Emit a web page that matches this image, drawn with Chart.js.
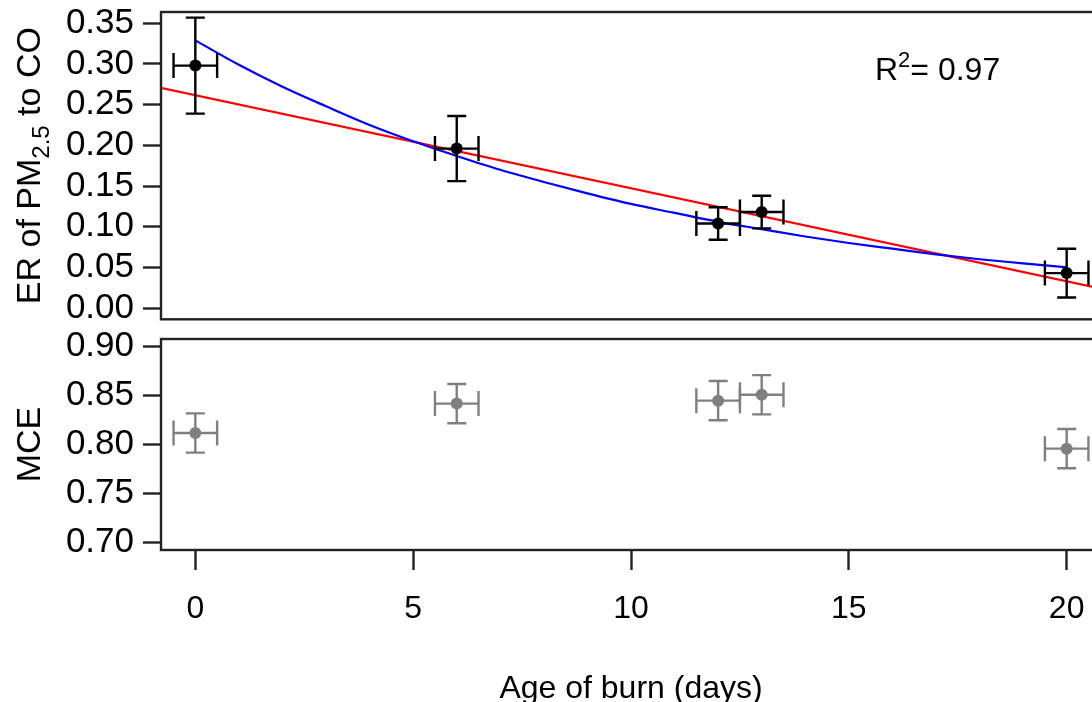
<!DOCTYPE html>
<html><head><meta charset="utf-8">
<script src="https://cdn.jsdelivr.net/npm/chart.js@4/dist/chart.umd.min.js"></script>
<style>
html,body{margin:0;padding:0;background:#fff;overflow:hidden;width:1092px;height:702px;position:relative;}
#c1{position:absolute;left:0;top:0;}
#c2{position:absolute;left:0;top:330px;}
</style></head><body>
<canvas id="c1" width="1120" height="330"></canvas>
<canvas id="c2" width="1120" height="372"></canvas>
<script>
// ---- data ----
const ageDays   = [0, 6, 12, 13, 20];
const ageErr    = [0.5, 0.5, 0.5, 0.5, 0.5];
const erValues  = [0.298, 0.196, 0.104, 0.118, 0.043];
const erErr     = [0.059, 0.040, 0.020, 0.020, 0.030];
const mceValues = [0.812, 0.842, 0.845, 0.851, 0.796];
const mceErr    = [0.020, 0.020, 0.020, 0.020, 0.020];
const expFitX   = [0,1,2,3,4,5,6,7,8,9,10,11,12,13,14,15,16,17,18,19,20];
const expFitY   = [0.329,0.299,0.272,0.248,0.225,0.205,0.187,0.170,0.155,0.141,0.128,0.117,0.106,0.097,0.088,0.080,0.073,0.066,0.060,0.055,0.050];
const linFitX   = [-1, 21];
const linFitY   = [0.273, 0.0215];
const xTicks    = [0, 5, 10, 15, 20];
const erTicks   = [0.00, 0.05, 0.10, 0.15, 0.20, 0.25, 0.30, 0.35];
const mceTicks  = [0.70, 0.75, 0.80, 0.85, 0.90];
const r2Label   = '0.97';

const FONT = "'Liberation Sans', Arial, sans-serif";
const FS = 32;
const FSY = 35;
const FST = 34;
const X_MIN = -0.788, X_MAX = 20.788;

function pts(xs, ys){ return xs.map((x,i)=>({x:x, y:ys[i]})); }

function boxPlugin(){
  return {
    id:'box',
    afterDraw(chart){
      const a = chart.chartArea, c = chart.ctx;
      c.save(); c.strokeStyle = '#222'; c.lineWidth = 2.4;
      c.strokeRect(a.left, a.top, a.right - a.left, a.bottom - a.top);
      c.restore();
    }
  };
}

function errorBarPlugin(xs, ys, xe, ye, color){
  return {
    id:'errbars',
    beforeDatasetDraw(chart, args){
      if (args.index !== 0) return;
      const xs_ = chart.scales.x, ys_ = chart.scales.y, c = chart.ctx;
      c.save(); c.strokeStyle = color; c.lineWidth = 2.4;
      for (let i = 0; i < xs.length; i++){
        const px = xs_.getPixelForValue(xs[i]), py = ys_.getPixelForValue(ys[i]);
        const x0 = xs_.getPixelForValue(xs[i]-xe[i]), x1 = xs_.getPixelForValue(xs[i]+xe[i]);
        const y0 = ys_.getPixelForValue(ys[i]-ye[i]), y1 = ys_.getPixelForValue(ys[i]+ye[i]);
        c.beginPath();
        c.moveTo(px, y0); c.lineTo(px, y1);
        c.moveTo(px-9.5, y0); c.lineTo(px+9.5, y0);
        c.moveTo(px-9.5, y1); c.lineTo(px+9.5, y1);
        c.moveTo(x0, py); c.lineTo(x1, py);
        c.moveTo(x0, py-12.5); c.lineTo(x0, py+12.5);
        c.moveTo(x1, py-12.5); c.lineTo(x1, py+12.5);
        c.stroke();
      }
      c.restore();
    }
  };
}

function measureParts(c, parts){
  let total = 0;
  parts.forEach(p=>{ c.font = p.size + 'px ' + FONT; p.w = c.measureText(p.t).width; total += p.w; });
  return total;
}

function yAxis(ticks, min, max){
  return {
    type:'linear', position:'left', min:min, max:max,
    afterBuildTicks(s){ s.ticks = ticks.map(v=>({value:v})); },
    afterFit(s){ s.width = 161; s.paddingTop = 0; s.paddingBottom = 0; },
    grid:{ display:true, drawOnChartArea:false, drawTicks:true, tickLength:18, tickWidth:2.4, tickColor:'#222' },
    border:{ display:false },
    ticks:{ color:'#000', padding:9, autoSkip:false, font:{ family:FONT, size:FSY, lineHeight:1 }, callback:(v)=>Number(v).toFixed(2) }
  };
}

const textPlugin1 = {
  id:'texts1',
  afterDraw(chart){
    const c = chart.ctx, a = chart.chartArea;
    const parts = [{t:'ER of PM', size:FST, dy:0},{t:'2.5', size:24, dy:9},{t:' to CO', size:FST, dy:0}];
    const total = measureParts(c, parts);
    c.save();
    c.translate(28, (a.top + a.bottom)/2);
    c.rotate(-Math.PI/2);
    c.fillStyle = '#000'; c.textBaseline = 'alphabetic'; c.textAlign = 'left';
    let x = -total/2;
    parts.forEach(p=>{ c.font = p.size + 'px ' + FONT; c.fillText(p.t, x, 12 + p.dy); x += p.w; });
    c.restore();
    const xs = chart.scales.x, ys = chart.scales.y;
    let rx = xs.getPixelForValue(15.6), ry = ys.getPixelForValue(0.2803);
    c.save(); c.fillStyle = '#000'; c.textBaseline = 'alphabetic'; c.textAlign = 'left';
    c.font = FS + 'px ' + FONT; c.fillText('R', rx, ry); rx += c.measureText('R').width;
    c.font = '22px ' + FONT; c.fillText('2', rx, ry - 13); rx += c.measureText('2').width;
    c.font = FS + 'px ' + FONT; c.fillText('= ' + r2Label, rx, ry);
    c.restore();
  }
};

const textPlugin2 = {
  id:'texts2',
  afterDraw(chart){
    const c = chart.ctx, a = chart.chartArea;
    c.save();
    c.fillStyle = '#000'; c.font = FST + 'px ' + FONT;
    c.translate(28, (a.top + a.bottom)/2);
    c.rotate(-Math.PI/2);
    c.textAlign = 'center'; c.textBaseline = 'alphabetic';
    c.fillText('MCE', 0, 12);
    c.restore();
    c.save();
    c.fillStyle = '#000'; c.font = FS + 'px ' + FONT;
    c.textAlign = 'center'; c.textBaseline = 'middle';
    c.fillText('Age of burn (days)', (a.left + a.right)/2, 359);
    c.restore();
  }
};

new Chart(document.getElementById('c1'), {
  type:'scatter',
  data:{ datasets:[
    { data:pts(ageDays, erValues), pointRadius:6, pointBackgroundColor:'#000', pointBorderWidth:0, order:0 },
    { type:'line', data:pts(expFitX, expFitY), borderColor:'#0000ff', borderWidth:2.2, pointRadius:0, cubicInterpolationMode:'monotone', fill:false, order:1 },
    { type:'line', data:pts(linFitX, linFitY), borderColor:'#ff0000', borderWidth:2.2, pointRadius:0, fill:false, order:2 }
  ]},
  options:{
    responsive:false, animation:false, events:[],
    layout:{ padding:{ left:0, top:12, right:19, bottom:10.7 } },
    plugins:{ legend:{display:false}, tooltip:{enabled:false} },
    scales:{
      x:{ type:'linear', min:X_MIN, max:X_MAX, display:false },
      y: yAxis(erTicks, -0.0138, 0.3639)
    }
  },
  plugins:[ boxPlugin(), errorBarPlugin(ageDays, erValues, ageErr, erErr, '#000'), textPlugin1 ]
});

new Chart(document.getElementById('c2'), {
  type:'scatter',
  data:{ datasets:[
    { data:pts(ageDays, mceValues), pointRadius:6, pointBackgroundColor:'#808080', pointBorderWidth:0, order:0 }
  ]},
  options:{
    responsive:false, animation:false, events:[],
    layout:{ padding:{ left:0, top:9, right:19, bottom:0 } },
    plugins:{ legend:{display:false}, tooltip:{enabled:false} },
    scales:{
      x:{ type:'linear', position:'bottom', min:X_MIN, max:X_MAX,
          afterBuildTicks(s){ s.ticks = xTicks.map(v=>({value:v})); },
          afterFit(s){ s.height = 152; s.paddingLeft = 0; s.paddingRight = 0; },
          grid:{ display:true, drawOnChartArea:false, drawTicks:true, tickLength:20, tickWidth:2.4, tickColor:'#222' },
          border:{ display:false },
          ticks:{ color:'#000', padding:20, autoSkip:false, maxRotation:0, font:{ family:FONT, size:FS }, callback:(v)=>String(v) } },
      y: yAxis(mceTicks, 0.6926, 0.9079)
    }
  },
  plugins:[ boxPlugin(), errorBarPlugin(ageDays, mceValues, ageErr, mceErr, '#808080'), textPlugin2 ]
});
</script>
</body></html>
